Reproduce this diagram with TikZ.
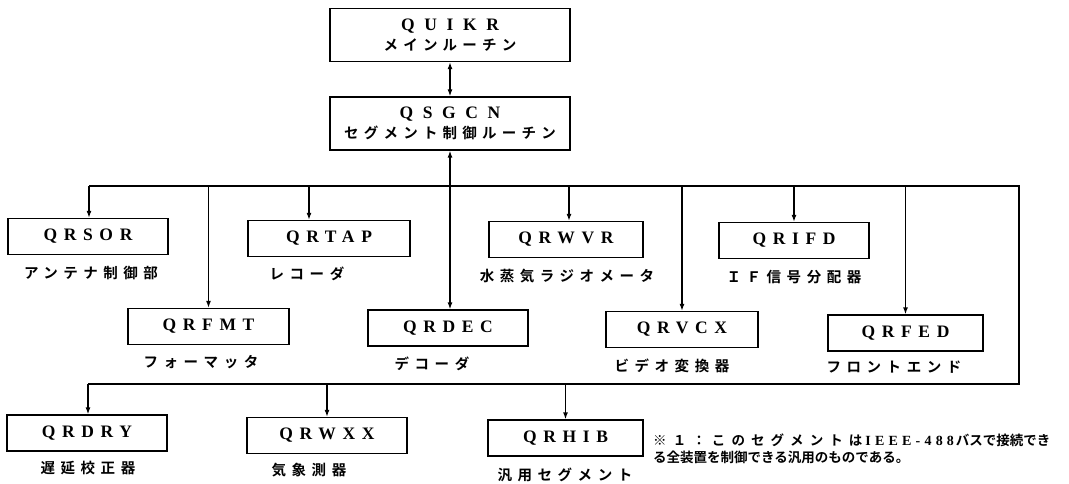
\documentclass[tikz,border=0pt]{standalone}
\usepackage{fontspec}
\setmainfont{Liberation Serif}
\newfontfamily\jp{Noto Sans CJK JP Bold}
\newfontfamily\noteLatin{Liberation Serif}[LetterSpace=30]
\usetikzlibrary{arrows.meta}
\begin{document}
\begin{tikzpicture}[x=1pt,y=-1pt,
  ln/.style={line width=1.3pt},
  arr/.style={ln,-{Latex[length=7pt,width=5pt]}},
  dbl/.style={ln,{Latex[length=7pt,width=5pt]}-{Latex[length=7pt,width=5pt]}},
  box/.style={draw,ln,minimum width=#1,minimum height=36pt,inner sep=0pt,
    font=\fontsize{17.5}{17}\selectfont\bfseries\addfontfeature{LetterSpace=38}},
  tbox/.style={draw,ln,minimum width=240pt,minimum height=53pt,inner sep=0pt,align=center,
    font=\fontsize{17.5}{16}\selectfont\bfseries},
  lab/.style={inner sep=0pt,font=\jp\fontsize{14.5}{14}\selectfont\addfontfeature{LetterSpace=38}},
  note/.style={inner sep=0pt,anchor=west,font=\jp\fontsize{13.5}{13}\selectfont}
]
\useasboundingbox[fill=white] (0,0) rectangle (1069,484);
\newcommand\tj[1]{{\jp\fontsize{14.5}{14}\selectfont\mdseries\addfontfeature{LetterSpace=36}#1}}
% top boxes
\node[tbox] (quikr) at (450,35) {{\addfontfeature{LetterSpace=55}QUIKR}\\[4pt]\tj{メインルーチン}};
\node[tbox] (qsgcn) at (450,123.5) {{\addfontfeature{LetterSpace=55}QSGCN}\\[4pt]\tj{セグメント制御ルーチン}};
% row 1
\node[box=160pt] (sor) at (88,236.5) {QRSOR};
\node[box=162pt] (tap) at (329,238.5) {QRTAP};
\node[box=154pt] (wvr) at (566,239.5) {QRWVR};
\node[box=150pt] (ifd) at (794,240.5) {QRIFD};
% row 2
\node[box=161pt] (fmt) at (208.5,326.5) {QRFMT};
\node[box=160pt] (dec) at (448,328) {QRDEC};
\node[box=152pt] (vcx) at (682,329.5) {QRVCX};
\node[box=155pt] (fed) at (905.5,333) {QRFED};
% row 3
\node[box=160pt] (dry) at (87,433) {QRDRY};
\node[box=160pt] (wxx) at (327,435.5) {QRWXX};
\node[box=155pt] (hib) at (565.5,438) {QRHIB};
% labels
\node[lab] (sorl) at (91,273) {アンテナ制御部};
\node[lab] (tapl) at (307,274) {レコーダ};
\node[lab] (wvrl) at (567,276) {水蒸気ラジオメータ};
\node[lab] (ifdl) at (794,277) {ＩＦ信号分配器};
\node[lab] (fmtl) at (201,362) {フォーマッタ};
\node[lab] (decl) at (432,364) {デコーダ};
\node[lab] (vcxl) at (672,366) {ビデオ変換器};
\node[lab] (fedl) at (894,367) {フロントエンド};
\node[lab] (dryl) at (88,468) {遅延校正器};
\node[lab] (wxxl) at (309,470) {気象測器};
\node[lab] (hibl) at (565,475) {汎用セグメント};
% note
\node[note] (n1) at (653,440) {{\addfontfeature{LetterSpace=45}※１：このセグメントは}\hspace{3pt}{\noteLatin\bfseries\fontsize{14}{13}\selectfont IEEE-488}\hspace{2pt}バスで接続でき};
\node[note] (n2) at (653,457.5) {る全装置を制御できる汎用のものである。};
% buses
\coordinate (bl) at (89,186);
\coordinate (br) at (1019,186);
\coordinate (lr) at (1019,384);
\coordinate (ll) at (88,384);
\draw[ln] (bl) -- (br) -- (lr) -- (ll);
% main connectors
\draw[dbl] (quikr.south) -- (qsgcn.north);
\draw[dbl] (qsgcn.south) -- (qsgcn.south |- dec.north);
% row 1 arrows
\draw[arr] (bl) -- (bl |- sor.north);
\coordinate (tapin) at (309,186);
\draw[arr] (tapin) -- (tapin |- tap.north);
\coordinate (wvrin) at (569,186);
\draw[arr] (wvrin) -- (wvrin |- wvr.north);
\draw[arr] (ifd.north |- bl) -- (ifd.north);
% row 2 arrows
\draw[arr] (fmt.north |- bl) -- (fmt.north);
\draw[arr] (vcx.north |- bl) -- (vcx.north);
\draw[arr] (fed.north |- bl) -- (fed.north);
% row 3 arrows
\draw[arr] (ll) -- (ll |- dry.north);
\draw[arr] (wxx.north |- ll) -- (wxx.north);
\draw[arr] (hib.north |- ll) -- (hib.north);
\end{tikzpicture}
\end{document}
